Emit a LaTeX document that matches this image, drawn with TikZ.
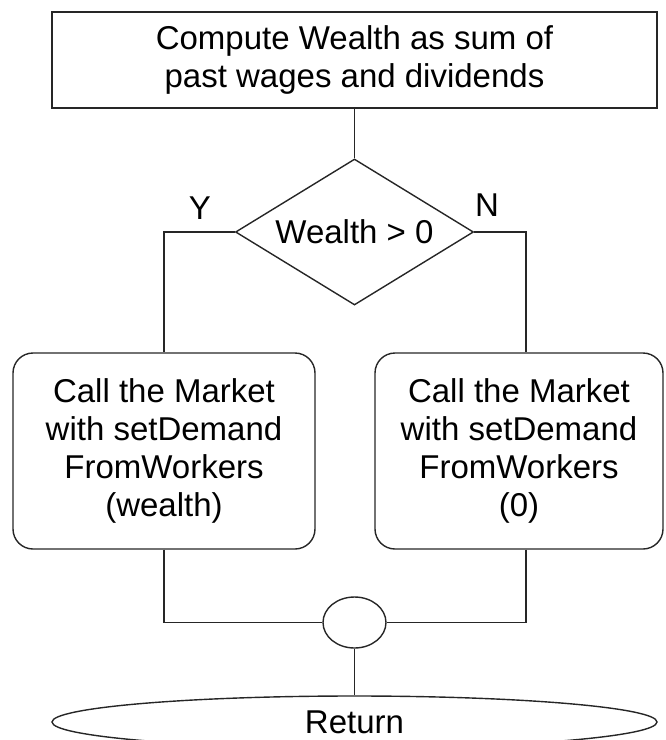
\documentclass[tikz,border=0pt]{standalone}
\usepackage{fontspec}
\setmainfont{Liberation Sans}
\usetikzlibrary{shapes.geometric}
\begin{document}
\begin{tikzpicture}[x=1pt,y=-1pt,
  every node/.style={font=\fontsize{33}{38}\selectfont, text=black},
  flow/.style={draw=black!85, line width=1.4pt},
  stepbox/.style={flow, rectangle, inner sep=0pt, align=center},
  roundbox/.style={stepbox, rounded corners=20pt, minimum height=196pt},
  decision/.style={flow, diamond, aspect=1.63, inner sep=0pt, minimum width=238pt, minimum height=146pt},
  joint/.style={flow, ellipse, inner sep=0pt, minimum width=63pt, minimum height=51pt},
  terminal/.style={flow, ellipse, inner sep=0pt, minimum width=605pt, minimum height=52pt},
  branch/.style={inner sep=0pt}
]
% page frame
\clip (0,0) rectangle (665,740);

% nodes
\node[stepbox, minimum width=605pt, minimum height=96pt] (top) at (354.5,60)
  {Compute Wealth as sum of\\past wages and dividends};
\node[decision] (dia) at (354.5,232) {Wealth > 0};
\node[branch] (ylab) at (200,208) {Y};
\node[branch] (nlab) at (487,205) {N};
\node[roundbox, minimum width=302pt] (lbox) at (164,451)
  {Call the Market\\with setDemand\\FromWorkers\\(wealth)};
\node[roundbox, minimum width=288pt] (rbox) at (519,451)
  {Call the Market\\with setDemand\\FromWorkers\\(0)};
\node[joint] (join) at (354.5,622.5) {};
\node[terminal] (ret) at (354.5,722) {Return};

% connectors
\draw[flow] (top.south) -- (dia.north);
\draw[flow] (dia.west) -| (lbox.north);
\draw[flow] (dia.east) -| ([xshift=7pt]rbox.north);
\draw[flow] (lbox.south) |- (join.west);
\draw[flow] ([xshift=7pt]rbox.south) |- (join.east);
\draw[flow] (join.south) -- (ret.north);
\end{tikzpicture}
\end{document}
